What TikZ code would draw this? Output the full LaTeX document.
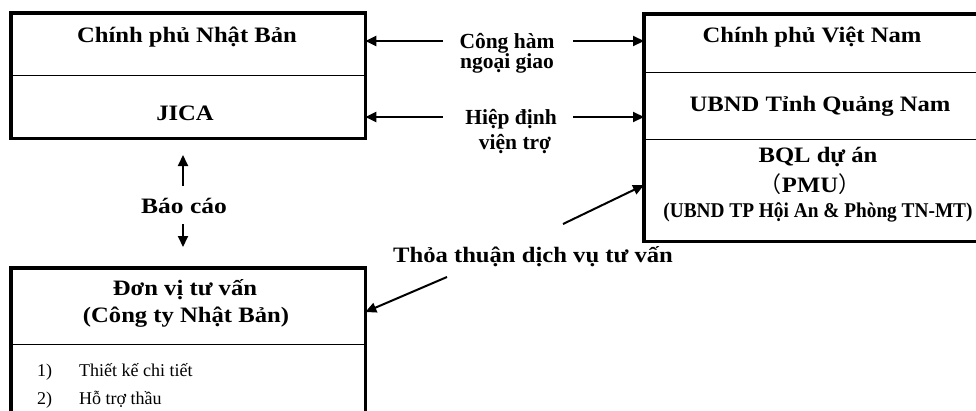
\documentclass[tikz,border=0pt]{standalone}
\usepackage{fontspec}
\setmainfont{Liberation Serif}
\newfontfamily\hdfont{Liberation Serif}[FakeStretch=1.12]
\newfontfamily\bcfont{Liberation Serif}[FakeStretch=1.16]
\newfontfamily\cdfont{Liberation Serif}[FakeStretch=0.92]
\newfontfamily\cjkfont{Noto Sans CJK SC}
\usetikzlibrary{arrows.meta,calc}
\tikzset{
  part/.style={draw=black, line width=1.3pt, rectangle, inner sep=0pt, anchor=north west},
  frame/.style={draw=black, line width=3.2pt},
  hd/.style={font=\hdfont\fontsize{22}{24}\selectfont\bfseries, inner sep=0pt},
  sm/.style={font=\cdfont\fontsize{21}{23}\selectfont\bfseries, inner sep=0pt},
  lbl/.style={font=\fontsize{21.5}{23}\selectfont\bfseries, inner sep=0pt, align=center},
  bc/.style={font=\bcfont\fontsize{22}{24}\selectfont\bfseries, inner sep=0pt},
  item/.style={font=\fontsize{18}{20}\selectfont, inner sep=0pt, anchor=base west},
  arr/.style={line width=2pt, -{Triangle[length=11pt,width=10pt]}},
}
\begin{document}
\begin{tikzpicture}[x=1pt,y=-1pt]
\useasboundingbox (0,0) rectangle (976,410);
\clip (0,0) rectangle (976,410);
\fill[white] (0,0) rectangle (976,410);
% left top box
\node[part, minimum width=353pt, minimum height=62pt] (jp) at (11,13) {};
\node[part, minimum width=353pt, minimum height=62pt] (jica) at (11,75) {};
\draw[frame] (jp.north west) rectangle (jica.south east);
\node[hd] (tjp) at (187,37) {Chính phủ Nhật Bản};
\node[hd] (tjica) at (185,113) {JICA};
% right box
\node[part, minimum width=350pt, minimum height=58pt] (vn) at (644,14) {};
\node[part, minimum width=350pt, minimum height=67pt] (qn) at (644,72) {};
\node[part, minimum width=350pt, minimum height=101pt] (pmu) at (644,139) {};
\draw[frame] (vn.north west) rectangle (pmu.south east);
\node[hd] (tvn) at (812,37) {Chính phủ Việt Nam};
\node[hd] (tqn) at (820,106) {UBND Tỉnh Quảng Nam};
\node[hd] (tbql) at (818,157) {BQL dự án};
\node[hd] (tpmu) at (810,184) {{\cjkfont\mdseries （}PMU{\cjkfont\mdseries ）}};
\node[sm] (tubnd) at (818,212) {(UBND TP Hội An \& Phòng TN-MT)};
% bottom left box
\node[part, minimum width=353pt, minimum height=76pt] (cons) at (11,268) {};
\node[part, minimum width=353pt, minimum height=90pt] (tasks) at (11,344) {};
\draw[frame] (cons.north west) rectangle (tasks.south east);
\node[hd] (tcons1) at (185,290) {Đơn vị tư vấn};
\node[hd] (tcons2) at (186,317) {(Công ty Nhật Bản)};
\node[item] (n1) at (37,376) {1)};
\node[item] (i1) at (79,376) {Thiết kế chi tiết};
\node[item] (n2) at (37,404) {2)};
\node[item] (i2) at (79,404) {Hỗ trợ thầu};
% labels
\node[lbl] (l1a) at (507,43) {Công hàm};
\node[lbl] (l1b) at (507,63) {ngoại giao};
\node[lbl] (l2a) at (511,119) {Hiệp định};
\node[lbl] (l2b) at (515,144) {viện trợ};
\node[bc] (l3) at (184,206) {Báo cáo};
\node[hd] (l4) at (533,257) {Thỏa thuận dịch vụ tư vấn};
% free ends
\coordinate (a1l) at (443,41);
\coordinate (a1r) at (573,41);
\coordinate (a2l) at (443,117);
\coordinate (a2r) at (573,117);
\coordinate (a3) at (563,224);
\coordinate (a3t) at (644,185);
\coordinate (a4) at (447,277);
\coordinate (a4t) at (364,312);
\coordinate (b1) at (183,186);
\coordinate (b1t) at (183,155);
\coordinate (b2) at (183,224);
\coordinate (b2t) at (183,247);
% arrows
\draw[arr] (a1l) -- (jp.east |- a1l);
\draw[arr] (a1r) -- (vn.west |- a1r);
\draw[arr] (a2l) -- (jica.east |- a2l);
\draw[arr] (a2r) -- (qn.west |- a2r);
\draw[arr] (a3) -- (pmu.west |- a3t);
\draw[arr] (a4) -- (cons.east |- a4t);
\draw[arr] (b1) -- (b1t);
\draw[arr] (b2) -- (b2t);
\end{tikzpicture}
\end{document}
